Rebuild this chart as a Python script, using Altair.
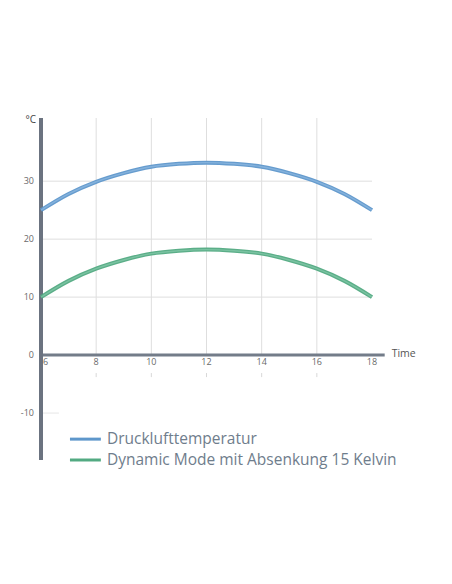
import altair as alt
import pandas as pd

hours = [6, 7, 8, 9, 10, 11, 12, 13, 14, 15, 16, 17, 18]
druck = [25.0, 27.8, 29.9, 31.4, 32.5, 33.0, 33.2, 33.0, 32.5, 31.4, 29.9, 27.8, 25.0]
dynamic = [10.0, 12.8, 14.9, 16.4, 17.5, 18.0, 18.2, 18.0, 17.5, 16.4, 14.9, 12.8, 10.0]
series_names = ["Drucklufttemperatur", "Dynamic Mode mit Absenkung 15 Kelvin"]
series_colors = ["#5e97cb", "#52aa82"]
x_ticks = [6, 8, 10, 12, 14, 16, 18]
y_ticks = [-10, 0, 10, 20, 30]
grid_x = [8, 10, 12, 14, 16]
grid_y = [10, 20, 30]

X_MIN, X_MAX = 6, 18
Y_MIN, Y_MAX = -18.1, 40.9
FONT = "Open Sans"

rows = []
for h, a, b in zip(hours, druck, dynamic):
    rows.append({"t": h, "v": a, "s": series_names[0]})
    rows.append({"t": h, "v": b, "s": series_names[1]})
df = pd.DataFrame(rows)

xs = alt.Scale(domain=[X_MIN, X_MAX], nice=False, zero=False)
ys = alt.Scale(domain=[Y_MIN, Y_MAX], nice=False, zero=False)
X = lambda f: alt.X(f, type="quantitative", scale=xs, axis=None)
Y = lambda f: alt.Y(f, type="quantitative", scale=ys, axis=None)
cscale = alt.Scale(domain=series_names, range=series_colors)

gx = pd.DataFrame({"x": grid_x, "y0": [0] * len(grid_x), "y1": [Y_MAX] * len(grid_x),
                   "m0": [-3.1] * len(grid_x), "m1": [-3.8] * len(grid_x)})
gy = pd.DataFrame({"y": grid_y, "x0": [X_MIN] * len(grid_y), "x1": [X_MAX] * len(grid_y)})

vgrid = alt.Chart(gx).mark_rule(color="#dedede", strokeWidth=1).encode(
    x=X("x"), y=Y("y0"), y2="y1")
vmarks = alt.Chart(gx).mark_rule(color="#d8d8d8", strokeWidth=1).encode(
    x=X("x"), y=Y("m0"), y2="m1")
hgrid = alt.Chart(gy).mark_rule(color="#dedede", strokeWidth=1).encode(
    y=Y("y"), x=X("x0"), x2="x1")
neg_grid = alt.Chart(pd.DataFrame({"y": [-10], "x0": [X_MIN], "x1": [6.65]})).mark_rule(
    color="#e6e6e6", strokeWidth=1).encode(y=Y("y"), x=X("x0"), x2="x1")

yaxis = alt.Chart(pd.DataFrame({"x": [X_MIN], "y0": [Y_MIN], "y1": [Y_MAX]})).mark_rule(
    color="#6b7380", strokeWidth=4).encode(x=X("x"), y=Y("y0"), y2="y1")
xaxis = alt.Chart(pd.DataFrame({"y": [0], "x0": [X_MIN], "x1": [18.46]})).mark_rule(
    color="#737c89", strokeWidth=3).encode(y=Y("y"), x=X("x0"), x2="x1")

xl = pd.DataFrame({"x": x_ticks, "y": [-1.25] * len(x_ticks), "lab": [str(v) for v in x_ticks]})
xlabels = alt.Chart(xl[xl["x"] != X_MIN]).mark_text(
    font=FONT, fontSize=9, color="#6a6a6a", baseline="middle", align="center").encode(
    x=X("x"), y=Y("y"), text="lab:N")
xlabel6 = alt.Chart(xl[xl["x"] == X_MIN]).mark_text(
    font=FONT, fontSize=9, color="#6a6a6a", baseline="middle", align="left", dx=2).encode(
    x=X("x"), y=Y("y"), text="lab:N")

yl = pd.DataFrame({"x": [X_MIN] * len(y_ticks), "y": y_ticks, "lab": [str(v) for v in y_ticks]})
ylabels = alt.Chart(yl).mark_text(
    font=FONT, fontSize=9, color="#6a6a6a", baseline="middle", align="right", dx=-7).encode(
    x=X("x"), y=Y("y"), text="lab:N")

unit = alt.Chart(pd.DataFrame({"x": [X_MIN], "y": [40.6], "lab": ["°C"]})).mark_text(
    font=FONT, fontSize=10, color="#444444", baseline="middle", align="right", dx=-5).encode(
    x=X("x"), y=Y("y"), text="lab:N")
time_lab = alt.Chart(pd.DataFrame({"x": [18.46], "y": [0.2], "lab": ["Time"]})).mark_text(
    font=FONT, fontSize=10.5, color="#555555", baseline="middle", align="left", dx=7).encode(
    x=X("x"), y=Y("y"), text="lab:N")

lines_outer = alt.Chart(df).mark_line(strokeWidth=4, interpolate="monotone", opacity=0.95).encode(
    x=X("t"), y=Y("v"), detail="s:N", color=alt.Color("s:N", scale=cscale, legend=None))
lines_inner = alt.Chart(df).mark_line(strokeWidth=1.4, interpolate="monotone", opacity=0.45).encode(
    x=X("t"), y=Y("v"), detail="s:N",
    color=alt.Color("s:N", scale=alt.Scale(domain=series_names, range=["#a9cdee", "#9fdcc0"]), legend=None))

# legend built from the series names
leg = pd.DataFrame({"s": series_names, "y": [-14.5, -18.1],
                    "x0": [7.05] * 2, "x1": [8.17] * 2, "xt": [8.39] * 2})
leg_sym = alt.Chart(leg).mark_rule(strokeWidth=3).encode(
    y=Y("y"), x=X("x0"), x2="x1", color=alt.Color("s:N", scale=cscale, legend=None))
leg_txt = alt.Chart(leg).mark_text(
    font=FONT, fontSize=15.5, color="#6f7d8c", align="left", baseline="middle").encode(
    x=X("xt"), y=Y("y"), text="s:N")

chart = alt.layer(
    vgrid, vmarks, hgrid, neg_grid, xaxis, yaxis, xlabels, xlabel6, ylabels, unit, time_lab,
    lines_outer, lines_inner, leg_sym, leg_txt
).resolve_scale(color="independent").properties(
    width=331, height=342,
    padding={"left": 33, "top": 110, "right": 72, "bottom": 116},
    autosize="none",
).configure_view(stroke=None)

chart.save("out.html", embed_options={"renderer": "svg", "actions": False})
